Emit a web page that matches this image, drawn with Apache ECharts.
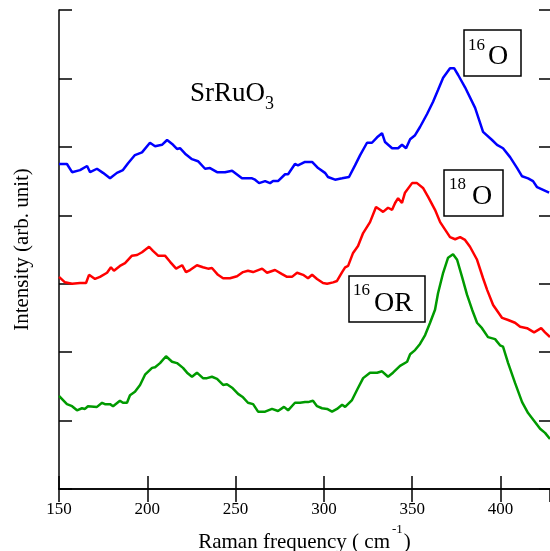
<!DOCTYPE html>
<html>
<head>
<meta charset="utf-8">
<script src="https://cdn.jsdelivr.net/npm/echarts@6/dist/echarts.min.js"></script>
<style>
  html, body { margin: 0; padding: 0; background: #fff; }
  #main { width: 550px; height: 551px; }
</style>
</head>
<body>
<div id="main"></div>
<script>
// Raman spectra of SrRuO3, [frequency (cm-1), intensity (arb. unit, offset)]
var o16 = [[150.0,4.75],[154.5,4.75],[157.4,4.63],[161.9,4.66],[165.9,4.72],[167.6,4.63],[171.5,4.68],[174.9,4.62],[178.9,4.54],[182.8,4.62],
  [186.2,4.66],[189.1,4.76],[193.0,4.88],[197.0,4.92],[201.5,5.06],[204.4,5.01],[208.3,5.03],[211.2,5.10],[214.6,5.03],[216.8,4.97],
  [218.5,4.98],[221.4,4.90],[225.3,4.82],[228.7,4.79],[232.7,4.68],[235.5,4.69],[239.5,4.63],[244.0,4.63],[248.0,4.65],[253.6,4.54],
  [256.5,4.54],[259.3,4.54],[261.0,4.52],[263.3,4.47],[266.7,4.50],[269.5,4.47],[271.2,4.50],[274.0,4.50],[278.0,4.60],[279.7,4.60],
  [283.6,4.75],[285.3,4.73],[289.3,4.78],[293.3,4.78],[296.7,4.69],[300.6,4.62],[302.3,4.56],[306.3,4.52],[310.3,4.54],[314.2,4.56],
  [317.6,4.73],[320.5,4.88],[324.4,5.06],[327.2,5.06],[330.1,5.14],[332.9,5.20],[334.6,5.07],[338.6,4.98],[342.0,4.98],[344.2,5.03],
  [346.5,4.98],[348.8,5.11],[351.6,5.17],[354.4,5.29],[358.4,5.48],[361.8,5.66],[364.6,5.83],[367.5,6.01],[371.4,6.15],[373.7,6.15],
  [376.0,6.05],[379.9,5.87],[385.6,5.57],[390.1,5.22],[395.2,5.10],[398.0,5.03],[401.4,4.98],[405.4,4.85],[409.4,4.69],[412.2,4.57],
  [415.6,4.54],[418.4,4.50],[420.7,4.41],[424.1,4.37],[427.5,4.33]];

var o18 = [[150.0,3.10],[153.4,3.02],[157.4,3.00],[161.9,3.01],[165.3,3.01],[167.0,3.13],[170.4,3.07],[173.2,3.10],[177.2,3.16],[179.4,3.24],
  [181.1,3.19],[184.5,3.26],[187.4,3.30],[191.3,3.41],[194.2,3.42],[197.0,3.46],[201.0,3.54],[203.2,3.48],[206.1,3.41],[210.0,3.41],
  [212.9,3.32],[216.3,3.22],[219.7,3.27],[221.9,3.17],[224.2,3.20],[228.1,3.27],[231.5,3.24],[234.4,3.22],[236.6,3.23],[240.0,3.13],
  [242.9,3.08],[246.8,3.08],[250.8,3.11],[254.2,3.17],[257.0,3.19],[259.9,3.17],[265.0,3.22],[267.8,3.16],[272.3,3.20],[276.3,3.14],
  [279.1,3.10],[281.9,3.10],[284.8,3.16],[288.2,3.13],[291.0,3.08],[293.3,3.13],[296.1,3.07],[299.5,3.01],[301.8,3.00],[305.2,3.02],
  [307.4,3.04],[310.3,3.17],[312.0,3.24],[313.7,3.26],[316.5,3.45],[319.3,3.55],[322.2,3.74],[326.1,3.90],[329.5,4.12],[331.8,4.08],
  [333.5,4.05],[336.3,4.11],[338.6,4.08],[340.3,4.18],[342.0,4.25],[344.2,4.18],[345.9,4.33],[349.9,4.47],[352.7,4.47],[356.1,4.40],
  [359.0,4.27],[362.9,4.08],[365.8,3.90],[368.6,3.79],[371.4,3.68],[374.3,3.65],[377.1,3.68],[379.9,3.64],[382.7,3.54],[386.7,3.35],
  [390.1,3.08],[392.4,2.91],[395.8,2.69],[400.9,2.50],[404.3,2.47],[408.2,2.43],[411.1,2.37],[415.0,2.35],[419.0,2.29],[423.0,2.35],
  [425.2,2.29],[428.0,2.22]];

var o16r = [[150.0,1.36],[154.5,1.24],[157.4,1.21],[160.2,1.15],[163.0,1.18],[164.7,1.17],[166.4,1.21],[171.5,1.20],[174.4,1.26],[176.0,1.24],
  [178.9,1.24],[180.6,1.21],[184.5,1.29],[186.2,1.26],[188.5,1.26],[190.2,1.37],[193.0,1.42],[195.9,1.52],[198.7,1.67],[202.7,1.77],
  [204.4,1.78],[207.2,1.84],[210.6,1.94],[214.0,1.86],[216.8,1.84],[220.2,1.77],[222.5,1.70],[225.3,1.64],[228.1,1.70],[231.5,1.62],
  [233.8,1.62],[236.6,1.64],[239.5,1.61],[242.9,1.52],[245.1,1.53],[248.0,1.48],[251.4,1.39],[254.2,1.34],[257.0,1.26],[259.9,1.24],
  [262.7,1.13],[266.7,1.13],[270.6,1.17],[274.0,1.14],[277.4,1.20],[279.7,1.15],[283.6,1.26],[286.5,1.26],[289.3,1.27],[291.0,1.27],
  [293.8,1.29],[296.1,1.21],[298.9,1.18],[301.8,1.17],[304.6,1.13],[307.4,1.17],[310.3,1.23],[312.0,1.20],[315.9,1.30],[318.8,1.45],
  [322.2,1.62],[326.1,1.70],[330.1,1.70],[332.9,1.72],[336.3,1.64],[339.1,1.70],[343.1,1.80],[347.1,1.86],[348.8,1.97],[351.6,2.03],
  [354.4,2.12],[357.3,2.25],[360.1,2.43],[362.9,2.62],[364.6,2.86],[367.5,3.16],[370.3,3.38],[373.1,3.43],[375.4,3.35],[378.2,3.10],
  [381.0,2.84],[383.9,2.62],[386.7,2.43],[389.5,2.35],[392.9,2.22],[396.9,2.19],[399.7,2.10],[401.4,2.08],[404.3,1.84],[408.2,1.55],
  [412.2,1.27],[415.6,1.11],[419.5,0.98],[422.4,0.88],[425.2,0.82],[428.0,0.73]];

var serif = "'Liberation Serif', 'Times New Roman', serif";

var myChart = echarts.init(document.getElementById('main'));

function frameAxis(pos) {
  return {
    type: 'value', position: pos, min: 150, max: 428, interval: 50,
    axisLine: { show: true, lineStyle: { color: '#000', width: 1.5 } },
    axisTick: { show: true, inside: true, length: 13, lineStyle: { color: '#000', width: 1.5 } },
    splitLine: { show: false },
    axisLabel: { show: false }
  };
}

var bottomAxis = frameAxis('bottom');
bottomAxis.axisLabel = { show: true, showMaxLabel: false, margin: 12, color: '#000', fontFamily: serif, fontSize: 17 };
bottomAxis.name = '{a|Raman frequency ( cm}{s|-1}{a|)}';
bottomAxis.nameLocation = 'middle';
bottomAxis.nameGap = 25;
bottomAxis.nameTextStyle = {
  rich: {
    a: { color: '#000', fontFamily: serif, fontSize: 21, lineHeight: 30, verticalAlign: 'bottom' },
    s: { color: '#000', fontFamily: serif, fontSize: 13, lineHeight: 13, verticalAlign: 'top', padding: [0, 1, 0, 2] }
  }
};

var option = {
  animation: false,
  backgroundColor: '#fff',
  grid: { left: 59, right: 0, top: 10, bottom: 62, outerBoundsMode: 'none' },
  xAxis: [bottomAxis, frameAxis('top')],
  yAxis: [
    {
      type: 'value', position: 'left', min: 0, max: 7, interval: 1,
      name: 'Intensity (arb. unit)', nameLocation: 'middle', nameGap: 26,
      nameTextStyle: { color: '#000', fontFamily: serif, fontSize: 21 },
      axisLine: { show: true, lineStyle: { color: '#000', width: 1.5 } },
      axisTick: { show: true, inside: true, length: 13, lineStyle: { color: '#000', width: 1.5 } },
      splitLine: { show: false },
      axisLabel: { show: false }
    },
    {
      type: 'value', position: 'right', min: 0, max: 7, interval: 1,
      axisLine: { show: false },
      axisTick: { show: true, inside: true, length: 11, lineStyle: { color: '#000', width: 1.5 } },
      splitLine: { show: false },
      axisLabel: { show: false }
    }
  ],
  graphic: [
    { type: 'text', left: 190, top: 80, style: { text: 'SrRuO', fill: '#000', font: '27px ' + serif } },
    { type: 'text', left: 265, top: 95, style: { text: '3', fill: '#000', font: '18px ' + serif } },

    { type: 'rect', shape: { x: 464, y: 30, width: 57, height: 46 }, style: { fill: '#fff', stroke: '#000', lineWidth: 1.5 } },
    { type: 'text', left: 468, top: 37, style: { text: '16', fill: '#000', font: '17px ' + serif } },
    { type: 'text', left: 488, top: 43, style: { text: 'O', fill: '#000', font: '28px ' + serif } },

    { type: 'rect', shape: { x: 444, y: 170, width: 59, height: 46 }, style: { fill: '#fff', stroke: '#000', lineWidth: 1.5 } },
    { type: 'text', left: 449, top: 176, style: { text: '18', fill: '#000', font: '17px ' + serif } },
    { type: 'text', left: 472, top: 183, style: { text: 'O', fill: '#000', font: '28px ' + serif } },

    { type: 'rect', shape: { x: 349, y: 276, width: 76, height: 46 }, style: { fill: '#fff', stroke: '#000', lineWidth: 1.5 } },
    { type: 'text', left: 353, top: 282, style: { text: '16', fill: '#000', font: '17px ' + serif } },
    { type: 'text', left: 374, top: 290, style: { text: 'OR', fill: '#000', font: '28px ' + serif } }
  ],
  series: [
    { name: '16O', type: 'line', data: o16, showSymbol: false, lineStyle: { color: '#0000ff', width: 2.5 }, z: 2 },
    { name: '18O', type: 'line', data: o18, showSymbol: false, lineStyle: { color: '#ff0000', width: 2.5 }, z: 2 },
    { name: '16OR', type: 'line', data: o16r, showSymbol: false, lineStyle: { color: '#009a00', width: 2.5 }, z: 2 }
  ]
};

myChart.setOption(option);
</script>
</body>
</html>
